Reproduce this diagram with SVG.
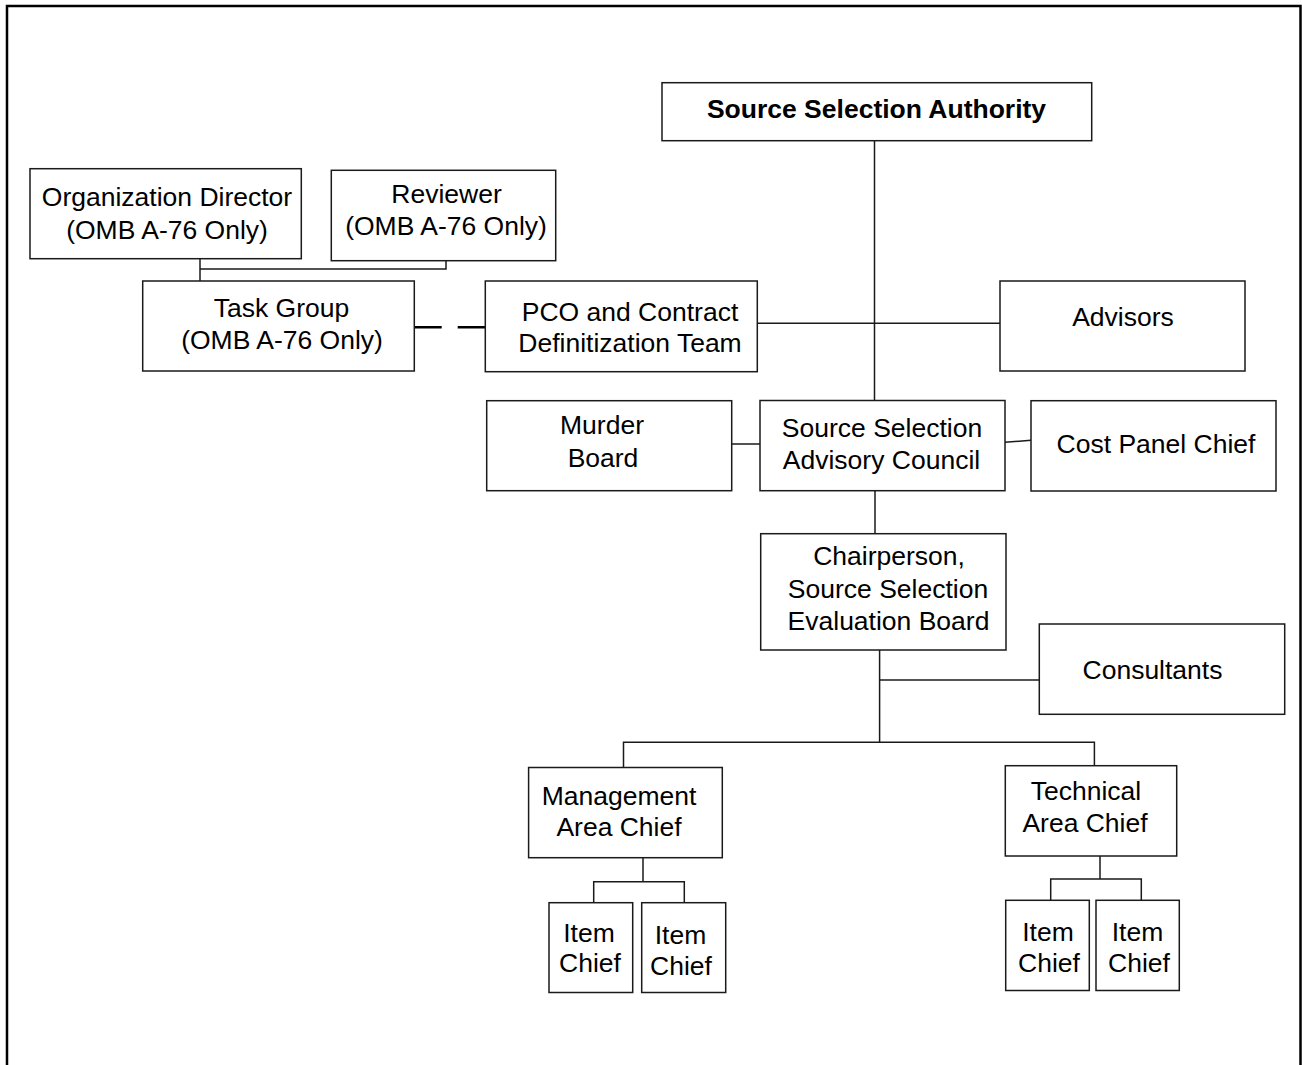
<svg xmlns="http://www.w3.org/2000/svg" width="1302" height="1065" viewBox="0 0 1302 1065">
  <style>
    .box { fill: #ffffff; stroke: #1a1a1a; stroke-width: 1.5; }
    .lbl { font-family: "Liberation Sans", Arial, sans-serif; font-size: 26.5px; fill: #000; text-anchor: middle; }
    .bold { font-weight: bold; }
    .conn { fill: none; stroke: #1a1a1a; stroke-width: 1.5; }
    .dash { fill: none; stroke: #000; stroke-width: 2.5; }
  </style>
  <rect width="1302" height="1065" fill="#ffffff"/>
  <!-- frame: open at the bottom -->
  <path d="M7,1065 V6 H1300.5 V1065" fill="none" stroke="#000" stroke-width="2.5"/>

  <g id="connectors">
    <!-- authority trunk -->
    <path class="conn" d="M874.5,140.7 V400.5"/>
    <path class="conn" d="M757.3,323.3 H1000"/>
    <path class="conn" d="M731.7,444 H760"/>
    <path class="conn" d="M1005,442.3 L1031,440.3"/>
    <path class="conn" d="M875,490.7 V533.7"/>
    <!-- evaluation board tree -->
    <path class="conn" d="M879.6,650 V742.3"/>
    <path class="conn" d="M879.6,680 H1039.3"/>
    <path class="conn" d="M623.5,767.5 V742.3 H1094.4 V765.7"/>
    <path class="conn" d="M643,857.7 V881.7"/>
    <path class="conn" d="M593.7,902.7 V881.7 H684.3 V902.7"/>
    <path class="conn" d="M1100,856 V879"/>
    <path class="conn" d="M1050.7,900.3 V879 H1141.3 V900.3"/>
    <!-- OMB A-76 links -->
    <path class="conn" d="M200,258.7 V281"/>
    <path class="conn" d="M200,269 H446 V260.7"/>
    <path class="dash" d="M414.3,327.3 H441.7 M457.7,327.3 H485.3"/>
  </g>

  <g id="ssa">
    <rect class="box" x="662" y="82.7" width="429.7" height="58"/>
    <text class="lbl bold" x="876.5" y="118">Source Selection Authority</text>
  </g>
  <g id="org-director">
    <rect class="box" x="30" y="168.7" width="271.3" height="90"/>
    <text class="lbl" x="167" y="206">Organization Director</text>
    <text class="lbl" x="167" y="239">(OMB A-76 Only)</text>
  </g>
  <g id="reviewer">
    <rect class="box" x="331.3" y="170.3" width="224.4" height="90.4"/>
    <text class="lbl" x="446.5" y="203">Reviewer</text>
    <text class="lbl" x="446" y="235">(OMB A-76 Only)</text>
  </g>
  <g id="task-group">
    <rect class="box" x="142.7" y="281" width="271.6" height="90"/>
    <text class="lbl" x="281.5" y="317.3">Task Group</text>
    <text class="lbl" x="282" y="349.3">(OMB A-76 Only)</text>
  </g>
  <g id="pco">
    <rect class="box" x="485.3" y="281" width="272" height="90.7"/>
    <text class="lbl" x="630" y="320.7">PCO and Contract</text>
    <text class="lbl" x="630" y="352.3">Definitization Team</text>
  </g>
  <g id="advisors">
    <rect class="box" x="1000" y="281" width="245" height="90"/>
    <text class="lbl" x="1123" y="325.7">Advisors</text>
  </g>
  <g id="murder-board">
    <rect class="box" x="486.7" y="400.7" width="245" height="90"/>
    <text class="lbl" x="602" y="434.3">Murder</text>
    <text class="lbl" x="603" y="466.7">Board</text>
  </g>
  <g id="ssac">
    <rect class="box" x="760" y="400.5" width="245" height="90.2"/>
    <text class="lbl" x="882" y="436.7">Source Selection</text>
    <text class="lbl" x="881.5" y="469">Advisory Council</text>
  </g>
  <g id="cost-panel">
    <rect class="box" x="1031" y="400.7" width="245" height="90.3"/>
    <text class="lbl" x="1156" y="452.7">Cost Panel Chief</text>
  </g>
  <g id="sseb-chair">
    <rect class="box" x="760.7" y="533.7" width="245.3" height="116.3"/>
    <text class="lbl" x="889" y="565.3">Chairperson,</text>
    <text class="lbl" x="888" y="598.3">Source Selection</text>
    <text class="lbl" x="888.5" y="630">Evaluation Board</text>
  </g>
  <g id="consultants">
    <rect class="box" x="1039.3" y="624" width="245.4" height="90.3"/>
    <text class="lbl" x="1152.5" y="678.7">Consultants</text>
  </g>
  <g id="management">
    <rect class="box" x="528.6" y="767.5" width="193.7" height="90.2"/>
    <text class="lbl" x="619" y="805">Management</text>
    <text class="lbl" x="619" y="836.3">Area Chief</text>
  </g>
  <g id="technical">
    <rect class="box" x="1005.3" y="765.7" width="171.4" height="90.3"/>
    <text class="lbl" x="1086" y="800">Technical</text>
    <text class="lbl" x="1085" y="831.7">Area Chief</text>
  </g>
  <g id="item-chief-1">
    <rect class="box" x="549" y="902.7" width="83.7" height="89.8"/>
    <text class="lbl" x="589" y="942.3">Item</text>
    <text class="lbl" x="590" y="972.3">Chief</text>
  </g>
  <g id="item-chief-2">
    <rect class="box" x="641.7" y="902.7" width="84" height="89.8"/>
    <text class="lbl" x="680.5" y="944.3">Item</text>
    <text class="lbl" x="681" y="975">Chief</text>
  </g>
  <g id="item-chief-3">
    <rect class="box" x="1005.7" y="900.3" width="83.6" height="90.2"/>
    <text class="lbl" x="1048" y="941">Item</text>
    <text class="lbl" x="1049" y="972">Chief</text>
  </g>
  <g id="item-chief-4">
    <rect class="box" x="1096" y="900.3" width="83.3" height="90.2"/>
    <text class="lbl" x="1137.5" y="941">Item</text>
    <text class="lbl" x="1139" y="972">Chief</text>
  </g>
</svg>
